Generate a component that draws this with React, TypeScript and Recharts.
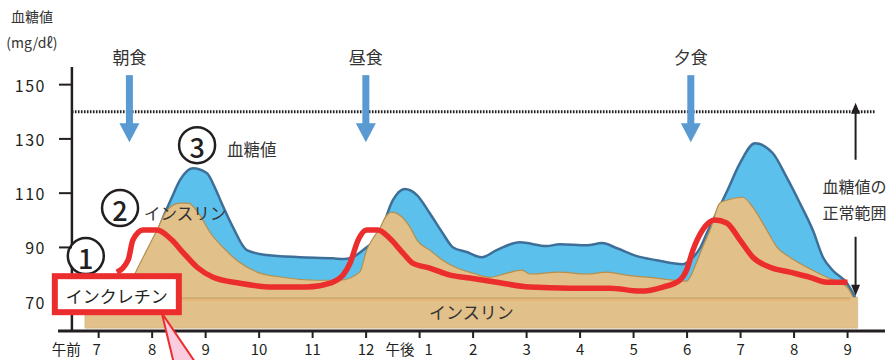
import React from 'react';
import {
  ComposedChart,
  Area,
  Line,
  XAxis,
  YAxis,
  ReferenceLine,
  ReferenceArea,
  ReferenceDot
} from 'recharts';

// hours (7 = 7am, 13 = 1pm ...) and values in mg/dl
const glucoseHours = [7.49, 7.71, 7.9, 8.09, 8.2, 8.37, 8.52, 8.76, 9.02, 9.17, 9.3, 9.51, 9.77, 10.14, 10.76, 11.38, 11.6, 11.75, 11.94, 12.26, 12.5, 12.72, 12.95, 13.19, 13.43, 13.62, 13.88, 14.16, 14.44, 14.87, 15.38, 15.62, 16.13, 16.41, 16.69, 17.06, 17.43, 17.92, 18.05, 18.24, 18.37, 18.74, 18.99, 19.27, 19.6, 19.86, 20.11, 20.35, 20.54, 20.72, 20.99, 21.14];
const glucoseValues = [71.7, 80, 87.5, 95, 100.8, 108.5, 114.8, 119.2, 117.4, 112.2, 106.3, 97.5, 89.0, 87.2, 86.4, 86.0, 85.7, 86.4, 89.0, 95.3, 107.4, 111.5, 109.3, 102.6, 95.3, 90.1, 88.3, 86.4, 89.0, 91.9, 90.5, 91.2, 90.8, 91.6, 89.7, 86.8, 85.3, 83.8, 85.3, 89.7, 95.3, 110.4, 121.1, 128.4, 124.8, 115.9, 106.3, 96.4, 86.4, 81.6, 76.8, 71.7];

const insulinHours = [7.49, 7.71, 7.9, 8.09, 8.28, 8.52, 8.67, 8.89, 9.08, 9.32, 9.58, 9.96, 10.44, 11.08, 11.51, 11.88, 12.01, 12.13, 12.26, 12.35, 12.48, 12.63, 12.82, 12.95, 13.19, 13.43, 13.7, 14.0, 14.31, 14.63, 14.91, 15.06, 15.62, 16.13, 16.5, 16.87, 17.43, 17.99, 18.18, 18.29, 18.43, 18.61, 18.74, 19.04, 19.23, 19.49, 19.68, 19.92, 20.24, 20.61, 20.99, 21.1];
const insulinValues = [71.7, 81.6, 89.0, 96.4, 103.7, 106.3, 106.3, 101.9, 95.6, 90.1, 85.3, 80.9, 79.0, 77.9, 77.9, 80.9, 89.0, 93.4, 97.1, 100.8, 103.0, 101.9, 97.5, 92.7, 89.0, 85.3, 82.4, 80.5, 79.0, 80.5, 81.6, 80.2, 80.9, 80.2, 80.9, 79.8, 78.7, 77.6, 84.6, 90.1, 96.4, 106.3, 107.4, 108.5, 104.8, 96.4, 90.1, 86.4, 82.7, 79.0, 75.4, 71.7];

const incretinHours = [7.34, 7.55, 7.64, 7.83, 8.09, 8.37, 8.57, 8.84, 9.14, 9.64, 10.26, 10.89, 11.32, 11.57, 11.7, 11.85, 12.01, 12.22, 12.44, 12.69, 12.87, 13.19, 13.57, 13.94, 14.44, 15.06, 15.81, 16.56, 17.12, 17.55, 17.86, 17.99, 18.11, 18.29, 18.52, 18.74, 18.99, 19.23, 19.55, 19.92, 20.3, 20.61, 21.0];
const incretinValues = [80.9, 85.3, 92.7, 96.4, 96.4, 92.7, 88.3, 82.7, 79.0, 76.8, 75.4, 75.4, 76.8, 79.8, 84.2, 92.7, 96.4, 96.4, 93.4, 87.9, 84.2, 82.4, 79.8, 78.7, 77.2, 75.4, 75.0, 75.0, 73.9, 75.4, 77.9, 81.6, 89.0, 96.4, 100.1, 99.0, 92.7, 86.4, 82.7, 80.9, 79.0, 77.2, 77.2];

const hourTicks = [7, 8, 9, 10, 11, 12, 13, 14, 15, 16, 17, 18, 19, 20, 21];
const valueTicks = [70, 90, 110, 130, 150];

const meals = [
  { hour: 7.575, label: '朝食' },
  { hour: 11.995, label: '昼食' },
  { hour: 18.07, label: '夕食' }
];

// basal insulin band
const basalStart = 6.743;
const basalEnd = 21.19;
const basalLow = 60.25;
const basalHigh = 71.7;
const normalHigh = 140;

const FONT = "'Noto Sans CJK JP', 'Noto Sans', sans-serif";
const INK = '#231f20';
const BLUE = '#5bc0eb';
const TAN = '#e2c089';
const RED = '#ec2d2d';

function buildRows() {
  const map = new Map<number, any>();
  const put = (hours: number[], values: number[], key: string) => {
    hours.forEach((h, i) => {
      const row = map.get(h) || { hour: h };
      row[key] = values[i];
      map.set(h, row);
    });
  };
  put(glucoseHours, glucoseValues, 'glucose');
  put(insulinHours, insulinValues, 'insulin');
  put(incretinHours, incretinValues, 'incretin');
  return Array.from(map.values()).sort((a, b) => a.hour - b.hour);
}

const rows = buildRows();

const XTick = (props: any) => {
  const { x, payload } = props;
  const v = payload.value;
  const num = v > 12 ? v - 12 : v;
  const style = { fontFamily: FONT, fontSize: 15, fill: INK };
  const ty = 348;
  if (v === 7) {
    return (
      <g>
        <text x={x - 18} y={ty} textAnchor="end" dominantBaseline="central" style={{ ...style, fontSize: 14.5 }}>午前</text>
        <text x={x - 2} y={ty} textAnchor="middle" dominantBaseline="central" style={style}>{num}</text>
      </g>
    );
  }
  if (v === 13) {
    return (
      <g>
        <text x={x - 5} y={ty} textAnchor="end" dominantBaseline="central" style={{ ...style, fontSize: 14.5 }}>午後</text>
        <text x={x + 9} y={ty} textAnchor="middle" dominantBaseline="central" style={style}>{num}</text>
      </g>
    );
  }
  return (
    <text x={x} y={ty} textAnchor="middle" dominantBaseline="central" style={style}>{num}</text>
  );
};

const YTick = (props: any) => {
  const { y, payload } = props;
  return (
    <g>
      {payload.value !== 70 && <line x1={59} x2={72} y1={y} y2={y} stroke={INK} strokeWidth={2} />}
      <text x={46} y={y} textAnchor="end" dominantBaseline="central"
        style={{ fontFamily: FONT, fontSize: 16, fill: INK, letterSpacing: 1.5 }}>
        {payload.value}
      </text>
    </g>
  );
};

const AxisTitle = ({ cx, cy }: any) => (
  <g>
    <text x={cx - 40} y={cy - 51} textAnchor="middle" dominantBaseline="central"
      style={{ fontFamily: FONT, fontSize: 14, fill: '#333' }}>血糖値</text>
    <text x={cx - 40} y={cy - 25} textAnchor="middle" dominantBaseline="central"
      style={{ fontFamily: FONT, fontSize: 14, fill: '#333' }}>(mg/dℓ)</text>
  </g>
);

const MealArrow = ({ cx, cy, label }: any) => (
  <g>
    <text x={cx} y={cy - 86} textAnchor="middle" dominantBaseline="central"
      style={{ fontFamily: FONT, fontSize: 17, fill: '#333' }}>{label}</text>
    <rect x={cx - 3.5} y={cy - 67} width={7} height={49} fill="#5a9ad3" />
    <polygon points={`${cx - 10},${cy - 19} ${cx + 10},${cy - 19} ${cx},${cy}`} fill="#5a9ad3" />
  </g>
);

const NormalRange = ({ cx, cy }: any) => (
  <g>
    <polygon points={`${cx},${cy - 9} ${cx - 4.5},${cy + 2} ${cx + 4.5},${cy + 2}`} fill={INK} />
    <line x1={cx} x2={cx} y1={cy} y2={cy + 48} stroke={INK} strokeWidth={2} />
    <text x={cx - 1} y={cy + 74} textAnchor="middle" dominantBaseline="central"
      style={{ fontFamily: FONT, fontSize: 16, fill: '#333' }}>血糖値の</text>
    <text x={cx - 1} y={cy + 100} textAnchor="middle" dominantBaseline="central"
      style={{ fontFamily: FONT, fontSize: 16, fill: '#333' }}>正常範囲</text>
    <line x1={cx} x2={cx} y1={cy + 125} y2={cy + 176} stroke={INK} strokeWidth={2} />
    <polygon points={`${cx},${cy + 184} ${cx - 4.5},${cy + 173} ${cx + 4.5},${cy + 173}`} fill={INK} />
  </g>
);

const Circled = ({ cx, cy, n, text, dx, dy }: any) => (
  <g>
    <circle cx={cx} cy={cy} r={18} fill="#fff" stroke={INK} strokeWidth={2.5} />
    <text x={cx} y={cy + 1} textAnchor="middle" dominantBaseline="central"
      style={{ fontFamily: FONT, fontSize: 27, fontWeight: 500, fill: INK }}>{n}</text>
    {text && (
      <text x={cx + dx} y={cy + dy} dominantBaseline="central"
        style={{ fontFamily: FONT, fontSize: 16.5, fill: '#333' }}>{text}</text>
    )}
  </g>
);

const IncretinBox = ({ cx, cy }: any) => (
  <g>
    <polygon points={`${cx + 45},${cy + 18} ${cx + 57},${cy + 68} ${cx + 79},${cy + 68}`}
      fill="#f9cce0" stroke={RED} strokeWidth={2} />
    <rect x={cx - 62} y={cy - 19} width={124} height={36} fill="#fff" stroke={RED} strokeWidth={6} />
    <text x={cx} y={cy} textAnchor="middle" dominantBaseline="central"
      style={{ fontFamily: FONT, fontSize: 17, fill: INK }}>インクレチン</text>
  </g>
);

export default function App() {
  return (
    <div style={{ position: 'absolute', left: 0, top: 0, width: 887, height: 360, background: '#fff', fontFamily: FONT }}>
      <ComposedChart width={887} height={360} data={rows}
        margin={{ top: 67, right: 2, bottom: 0, left: 0 }}>
        <XAxis dataKey="hour" type="number" domain={[6.24, 21.7]} allowDataOverflow
          ticks={hourTicks} interval={0} height={29} tickSize={7}
          axisLine={{ stroke: INK, strokeWidth: 3 }}
          tickLine={{ stroke: INK, strokeWidth: 2 }}
          tick={<XTick />} />
        <YAxis type="number" domain={[59.2, 156.5]} allowDataOverflow width={58}
          ticks={valueTicks} axisLine={false} tickLine={false} tick={<YTick />} />

        <ReferenceArea x1={basalStart} x2={basalEnd} y1={basalLow} y2={basalHigh}
          fill={TAN} fillOpacity={1} stroke="#cdb48a" strokeWidth={0.6}
          label={{ value: 'インスリン', position: 'center', fill: '#333', fontSize: 17, fontFamily: FONT }} />

        <Area type="monotone" dataKey="glucose" baseValue={basalHigh} connectNulls
          fill={BLUE} fillOpacity={1} stroke="#3e6f99" strokeWidth={2.5}
          isAnimationActive={false} dot={false} activeDot={false} />
        <Area type="monotone" dataKey="insulin" baseValue={basalHigh} connectNulls
          fill={TAN} fillOpacity={1} stroke="#b48f4d" strokeWidth={1.2}
          isAnimationActive={false} dot={false} activeDot={false} />

        <ReferenceLine segment={[{ x: basalStart, y: 71.3 }, { x: 21.05, y: 71.3 }]}
          stroke="#c9a36a" strokeWidth={1.2} />
        <ReferenceLine segment={[{ x: basalStart, y: 70.6 }, { x: 21.05, y: 70.6 }]}
          stroke="#e6b06a" strokeWidth={1} />

        <Line type="monotone" dataKey="incretin" connectNulls stroke={RED} strokeWidth={5.5}
          isAnimationActive={false} dot={false} activeDot={false} />

        <ReferenceLine segment={[{ x: 6.5, y: normalHigh }, { x: 21.51, y: normalHigh }]}
          stroke={INK} strokeWidth={3} strokeDasharray="1.6 1.4" />
        <ReferenceLine x={6.5} stroke={INK} strokeWidth={2.5} />

        <ReferenceDot x={6.5} y={156.5} r={0} ifOverflow="visible"
          shape={(p: any) => <AxisTitle cx={p.cx} cy={p.cy} />} />

        {meals.map((m) => (
          <ReferenceDot key={m.label} x={m.hour} y={128.8} r={0}
            shape={(p: any) => <MealArrow cx={p.cx} cy={p.cy} label={m.label} />} />
        ))}

        <ReferenceDot x={21.15} y={normalHigh} r={0}
          shape={(p: any) => <NormalRange cx={p.cx} cy={p.cy} />} />

        <ReferenceDot x={6.76} y={86.8} r={0}
          shape={(p: any) => <Circled cx={p.cx} cy={p.cy} n="1" />} />
        <ReferenceDot x={7.4} y={104.5} r={0}
          shape={(p: any) => <Circled cx={p.cx} cy={p.cy} n="2" text="インスリン" dx={24} dy={5} />} />
        <ReferenceDot x={8.84} y={127.7} r={0}
          shape={(p: any) => <Circled cx={p.cx} cy={p.cy} n="3" text="血糖値" dx={30} dy={4} />} />

        <ReferenceDot x={7.34} y={72.4} r={0}
          shape={(p: any) => <IncretinBox cx={p.cx} cy={p.cy} />} />
      </ComposedChart>
    </div>
  );
}
